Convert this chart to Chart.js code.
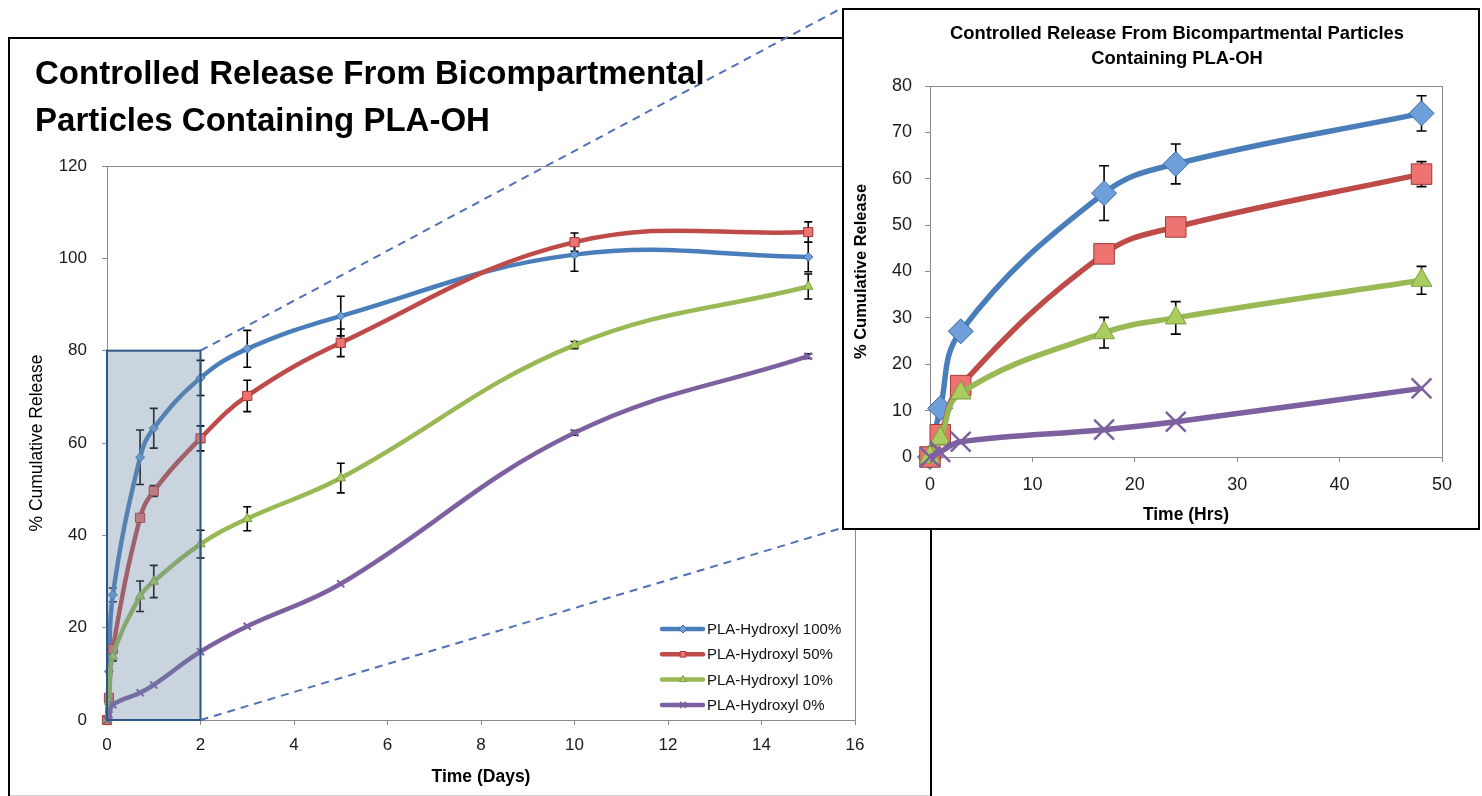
<!DOCTYPE html>
<html><head><meta charset="utf-8">
<script src="https://cdn.jsdelivr.net/npm/chart.js@4.4.1/dist/chart.umd.min.js"></script>
<style>
html,body{margin:0;padding:0;background:#fff;overflow:hidden;}
#wrap{position:relative;width:1482px;height:796px;}
#main{position:absolute;left:0;top:0;width:1482px;height:796px;}
#inset{position:absolute;left:842px;top:8px;width:638px;height:522px;}
</style></head><body>
<div id="wrap">
<canvas id="main" width="1482" height="796"></canvas>
<canvas id="inset" width="638" height="522"></canvas>
</div>
<script>
// ---------------- data ----------------
const seriesLabels = ['PLA-Hydroxyl 100%', 'PLA-Hydroxyl 50%', 'PLA-Hydroxyl 10%', 'PLA-Hydroxyl 0%'];
const timeDays  = [0, 0.042, 0.125, 0.708, 1, 2, 3, 5, 10, 15];
const timeHours = [0, 1, 3, 17, 24, 48];
const release100 = [0, 10.5, 27.1, 56.9, 63.2, 74.1, 80.4, 87.5, 100.8, 100.3];
const release50  = [0, 4.8, 15.4, 43.8, 49.6, 61.0, 70.2, 81.7, 103.5, 105.7];
const release10  = [0, 4.0, 13.8, 26.8, 30.0, 38.1, 43.6, 52.4, 81.2, 93.9];
const release0   = [0, 1.1, 3.3, 5.9, 7.6, 14.8, 20.3, 29.5, 62.2, 78.8];
const err100 = [null, null, 1.5, 5.9, 4.3, 3.8, 4.0, 4.3, 3.6, 3.2];
const err50  = [null, null, 1.0, null, 1.2, 2.7, 3.4, 3.0, 2.0, 2.2];
const err10  = [null, null, 1.0, 3.3, 3.5, 3.0, 2.6, 3.2, 0.8, 2.7];
const err0   = [null, null, null, null, null, null, null, null, 0.5, 0.5];
const mainXTicks  = [0, 2, 4, 6, 8, 10, 12, 14, 16];
const mainYTicks  = [0, 20, 40, 60, 80, 100, 120];
const insetXTicks = [0, 10, 20, 30, 40, 50];
const insetYTicks = [0, 10, 20, 30, 40, 50, 60, 70, 80];
const mainTitle  = ['Controlled Release From Bicompartmental', 'Particles Containing PLA-OH'];
const insetTitle = ['Controlled Release From Bicompartmental Particles', 'Containing PLA-OH'];
const mainXTitle = 'Time (Days)';
const insetXTitle = 'Time (Hrs)';
const yTitle = '% Cumulative Release';
const zoomWindowDays = 2;   // shaded window: 0..2 days
const zoomWindowPct = 80;   // 0..80 %

// ---------------- style ----------------
const FONT = '"Liberation Sans", Arial, sans-serif';
Chart.defaults.font.family = FONT;
const lineColors = ['#4A7EBB', '#BE4B48', '#98B954', '#7D60A0'];
const fillColors = ['#6E9FDA', '#EC736F', '#A9CD5F', '#8C70B0'];
const edgeColors = ['#3B6AA3', '#A33A37', '#7F9C40', '#7D60A0'];
const styles = ['rectRot', 'rect', 'triangle', 'crossRot'];

function buildDatasets(xs, big) {
  const vals = [release100, release50, release10, release0];
  const errs = [err100, err50, err10, err0];
  const rSmall = [4.5, 6.5, 5.5, 5];
  const rBig = [12.5, 14.5, 12, 14];
  return vals.map((v, i) => ({
    label: seriesLabels[i],
    data: xs.map((x, j) => ({x: x, y: v[j]})),
    errors: errs[i].slice(0, xs.length),
    borderColor: lineColors[i],
    backgroundColor: fillColors[i],
    borderWidth: big ? 5.5 : 4.5,
    tension: 0.4,
    pointStyle: styles[i],
    pointRadius: big ? rBig[i] : rSmall[i],
    pointBackgroundColor: fillColors[i],
    pointBorderColor: edgeColors[i],
    pointBorderWidth: i === 3 ? (big ? 2.5 : 2) : 1,
    order: 3 - i,
    clip: false
  }));
}

function fitFont(ctx, text, width, base) {
  ctx.font = 'bold ' + base + 'px ' + FONT;
  const w = ctx.measureText(text).width;
  return base * width / w;
}

function decor(cfg) {
  return {
    id: 'decor_' + cfg.name,
    beforeDraw(chart) {
      const ctx = chart.ctx;
      ctx.save();
      ctx.fillStyle = '#fff';
      ctx.fillRect(0, 0, chart.width, chart.height);
      cfg.frame(ctx, chart);
      ctx.restore();
    },
    beforeDatasetsDraw(chart) {
      const ctx = chart.ctx, a = chart.chartArea, xs = chart.scales.x, ys = chart.scales.y;
      ctx.save();
      ctx.strokeStyle = '#8a8a8a';
      ctx.lineWidth = 1;
      ctx.strokeRect(Math.round(a.left) + 0.5, Math.round(a.top) + 0.5, Math.round(a.right - a.left), Math.round(a.bottom - a.top));
      // error bars (drawn beneath lines and markers)
      ctx.strokeStyle = '#000';
      ctx.lineWidth = 1.6;
      chart.data.datasets.forEach(ds => {
        ds.data.forEach((p, j) => {
          const e = ds.errors[j];
          if (e == null) return;
          const x = xs.getPixelForValue(p.x);
          const y1 = ys.getPixelForValue(p.y + e), y2 = ys.getPixelForValue(p.y - e);
          ctx.beginPath();
          ctx.moveTo(x, y1); ctx.lineTo(x, y2);
          ctx.moveTo(x - cfg.cap, y1); ctx.lineTo(x + cfg.cap, y1);
          ctx.moveTo(x - cfg.cap, y2); ctx.lineTo(x + cfg.cap, y2);
          ctx.stroke();
        });
      });
      ctx.restore();
    },
    afterDatasetsDraw(chart) {
      if (cfg.after) cfg.after(chart);
    },
    afterDraw(chart) {
      const ctx = chart.ctx;
      ctx.save();
      cfg.texts(ctx, chart);
      ctx.restore();
    }
  };
}

function scaleOpts(ticksArr, min, max, horiz, size, o) {
  return {
    type: 'linear', min: min, max: max,
    afterBuildTicks: s => { s.ticks = ticksArr.map(v => ({value: v})); },
    afterFit: s => { if (horiz) s.height = o.fit; else s.width = o.fit; },
    grid: {drawOnChartArea: false, drawTicks: true, tickLength: 5, color: '#8a8a8a'},
    border: {display: true, color: '#8a8a8a'},
    ticks: {padding: o.pad, font: {size: size}, color: '#1a1a1a', maxRotation: 0, autoSkip: false},
    title: {display: true, text: o.title, color: '#000', font: {size: o.tsize, weight: o.tweight}, padding: o.tpad}
  };
}

// ---------------- main chart ----------------
new Chart(document.getElementById('main'), {
  type: 'line',
  data: {datasets: buildDatasets(timeDays, false)},
  options: {
    responsive: false, animation: false, events: [],
    layout: {padding: {left: 18, right: 627, top: 166, bottom: 0}},
    plugins: {legend: {display: false}, tooltip: {enabled: false}, title: {display: false}},
    scales: {
      x: scaleOpts(mainXTicks, 0, 16, true, 17, {fit: 76, pad: 10, title: mainXTitle, tsize: 17.5, tweight: 'bold', tpad: {top: 0, bottom: 8}}),
      y: scaleOpts(mainYTicks, 0, 120, false, 17, {fit: 89, pad: 15, title: yTitle, tsize: 17.5, tweight: 'normal', tpad: {top: 9, bottom: 0}})
    }
  },
  plugins: [decor({
    name: 'main', cap: 4,
    frame(ctx) {
      ctx.strokeStyle = '#000';
      ctx.lineWidth = 2;
      ctx.beginPath();
      ctx.moveTo(9, 800); ctx.lineTo(9, 38); ctx.lineTo(931, 38); ctx.lineTo(931, 800);
      ctx.stroke();
      ctx.strokeStyle = '#d0d0d0';
      ctx.lineWidth = 1;
      ctx.beginPath(); ctx.moveTo(10, 795.5); ctx.lineTo(930, 795.5); ctx.stroke();
    },
    after(chart) {
      const ctx = chart.ctx, xs = chart.scales.x, ys = chart.scales.y;
      const x0 = xs.getPixelForValue(0), x1 = xs.getPixelForValue(zoomWindowDays);
      const y0 = ys.getPixelForValue(0), y1 = ys.getPixelForValue(zoomWindowPct);
      ctx.save();
      ctx.fillStyle = 'rgba(106,135,166,0.36)';
      ctx.fillRect(x0, y1, x1 - x0, y0 - y1);
      ctx.strokeStyle = '#2B5687';
      ctx.lineWidth = 2;
      ctx.strokeRect(x0, y1, x1 - x0, y0 - y1);
      ctx.strokeStyle = '#5270B8';
      ctx.lineWidth = 2;
      ctx.setLineDash([8, 6]);
      ctx.beginPath();
      ctx.moveTo(x1, y1); ctx.lineTo(842, 8);
      ctx.moveTo(x1, y0); ctx.lineTo(842, 528);
      ctx.stroke();
      ctx.restore();
    },
    texts(ctx, chart) {
      // title
      const sz = fitFont(ctx, mainTitle[0], 670, 30);
      ctx.font = 'bold ' + sz.toFixed(2) + 'px ' + FONT;
      ctx.fillStyle = '#000';
      ctx.textAlign = 'left';
      ctx.textBaseline = 'alphabetic';
      ctx.fillText(mainTitle[0], 35, 84);
      ctx.fillText(mainTitle[1], 35, 131);
      // legend
      ctx.font = '15px ' + FONT;
      ctx.textBaseline = 'middle';
      chart.data.datasets.forEach((ds, i) => {
        const y = 629 + i * 25.3;
        ctx.strokeStyle = ds.borderColor;
        ctx.lineWidth = 4.5;
        ctx.lineCap = 'round';
        ctx.beginPath(); ctx.moveTo(662, y); ctx.lineTo(703, y); ctx.stroke();
        ctx.lineCap = 'butt';
        ctx.fillStyle = ds.pointBackgroundColor;
        ctx.strokeStyle = ds.pointBorderColor;
        ctx.lineWidth = ds.pointBorderWidth;
        Chart.helpers.drawPoint(ctx, {pointStyle: ds.pointStyle, radius: 4, rotation: 0, borderWidth: ds.pointBorderWidth}, 683, y);
        ctx.fillStyle = '#111';
        ctx.fillText(ds.label, 707, y + 1);
      });
    }
  })]
});

// ---------------- inset chart ----------------
new Chart(document.getElementById('inset'), {
  type: 'line',
  data: {datasets: buildDatasets(timeHours, true)},
  options: {
    responsive: false, animation: false, events: [],
    layout: {padding: {left: 4, right: 38, top: 78, bottom: 0}},
    plugins: {legend: {display: false}, tooltip: {enabled: false}, title: {display: false}},
    scales: {
      x: scaleOpts(insetXTicks, 0, 50, true, 18, {fit: 73, pad: 12, title: insetXTitle, tsize: 17.5, tweight: 'bold', tpad: {top: 0, bottom: 4}}),
      y: scaleOpts(insetYTicks, 0, 80, false, 18, {fit: 84, pad: 13, title: yTitle, tsize: 16.5, tweight: 'bold', tpad: {top: 6, bottom: 0}})
    }
  },
  plugins: [decor({
    name: 'inset', cap: 5,
    frame(ctx, chart) {
      ctx.strokeStyle = '#000';
      ctx.lineWidth = 2;
      ctx.strokeRect(1, 1, chart.width - 2, chart.height - 2);
    },
    texts(ctx) {
      const sz = fitFont(ctx, insetTitle[0], 454, 15);
      ctx.font = 'bold ' + sz.toFixed(2) + 'px ' + FONT;
      ctx.fillStyle = '#000';
      ctx.textAlign = 'center';
      ctx.textBaseline = 'middle';
      ctx.fillText(insetTitle[0], 335, 26);
      ctx.fillText(insetTitle[1], 335, 51);
    }
  })]
});
</script>
</body></html>
